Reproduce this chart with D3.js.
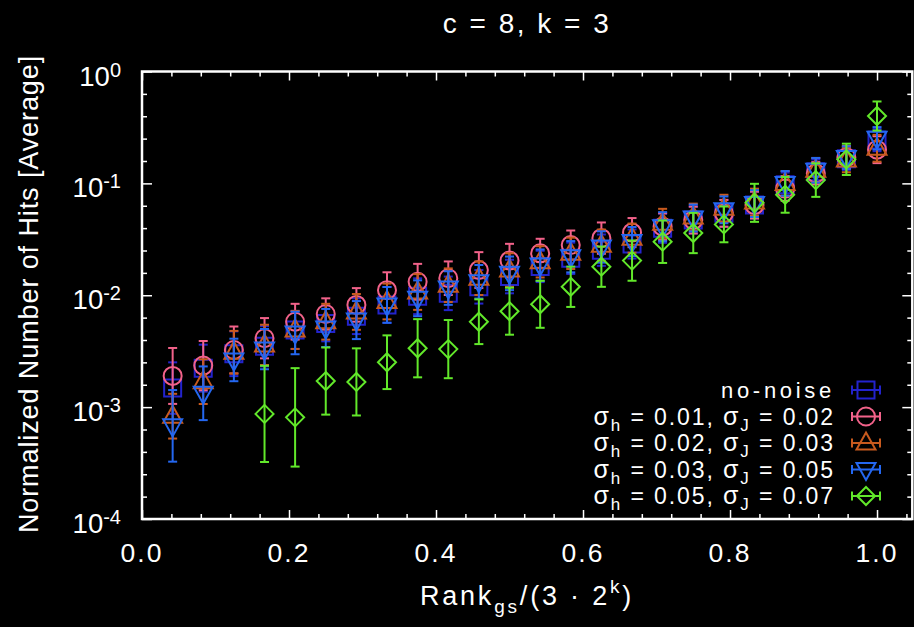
<!DOCTYPE html>
<html><head><meta charset="utf-8">
<script src="https://cdn.jsdelivr.net/npm/d3@7/dist/d3.min.js"></script>
<style>
html,body{margin:0;padding:0;background:#000;}
svg{display:block;}
text{font-family:"Liberation Sans",Arial,Helvetica,sans-serif;fill:#fff;}
</style>
</head><body>
<svg id="chart" width="914" height="627"></svg>
<script>
// ---------- data ----------
const rankValues = [0.0417,0.0833,0.125,0.1667,0.2083,0.25,0.2917,0.3333,0.375,0.4167,0.4583,0.5,
                    0.5417,0.5833,0.625,0.6667,0.7083,0.75,0.7917,0.8333,0.875,0.9167,0.9583,1.0];

const noNoise = [0.00148,0.00223,0.0030,0.0035,0.0049,0.0056,0.0065,0.0082,0.0098,0.0104,0.0119,0.0147,
                 0.0181,0.0214,0.0253,0.0287,0.0397,0.047,0.054,0.064,0.097,0.127,0.166,0.244];
const noNoiseErr = [0.23,0.21,0.20,0.18,0.17,0.16,0.16,0.16,0.16,0.15,0.15,0.15,
                    0.14,0.14,0.14,0.13,0.13,0.12,0.12,0.12,0.11,0.11,0.10,0.10];

const sigma01 = [0.0019,0.00235,0.00324,0.00413,0.0058,0.0068,0.0082,0.0111,0.0132,0.0142,0.0168,0.0204,
                 0.0237,0.0281,0.0324,0.0363,0.041,0.047,0.054,0.064,0.090,0.123,0.171,0.20];
const sigma01Err = [0.25,0.22,0.21,0.18,0.16,0.14,0.15,0.16,0.16,0.15,0.16,0.15,
                    0.13,0.13,0.14,0.13,0.12,0.12,0.12,0.12,0.11,0.10,0.10,0.12];

const sigma02 = [0.00083,0.00169,0.0031,0.0036,0.0049,0.0058,0.0071,0.0088,0.0107,0.0123,0.0142,0.0168,
                 0.0199,0.0237,0.028,0.0324,0.0439,0.050,0.060,0.068,0.100,0.131,0.162,0.206];
const sigma02Err = [0.20,0.20,0.19,0.18,0.17,0.16,0.16,0.16,0.16,0.15,0.15,0.15,
                    0.14,0.14,0.14,0.13,0.13,0.12,0.12,0.12,0.11,0.11,0.11,0.12];

const sigma03 = [0.00068,0.00133,0.00264,0.0033,0.0046,0.0051,0.0060,0.0082,0.0094,0.0116,0.0132,0.0157,
                 0.0186,0.0221,0.027,0.0302,0.041,0.049,0.058,0.066,0.100,0.131,0.170,0.253];
const sigma03Err = [0.32,0.24,0.19,0.18,0.19,0.17,0.17,0.16,0.16,0.15,0.15,0.15,
                    0.14,0.14,0.14,0.13,0.13,0.12,0.12,0.12,0.11,0.11,0.10,0.10];

const sigma05 = [null,null,null,0.00087,0.00081,0.00171,0.00168,0.00252,0.00336,0.0033,0.0058,0.0072,
                 0.0083,0.0119,0.018,0.0204,0.0301,0.036,0.043,0.067,0.079,0.107,0.164,0.40];
const sigma05Err = [null,null,null,0.43,0.44,0.30,0.30,0.24,0.26,0.26,0.20,0.21,
                    0.21,0.18,0.18,0.18,0.19,0.18,0.16,0.17,0.16,0.15,0.14,0.13];

const xTickValues = [0,0.2,0.4,0.6,0.8,1.0];
const xTickLabels = ["0.0","0.2","0.4","0.6","0.8","1.0"];
const yTickValues = [1e-4,1e-3,1e-2,1e-1,1];
const yTickExponents = ["-4","-3","-2","-1","0"];

const seriesNames = ["no-noise","0.01|0.02","0.02|0.03","0.03|0.05","0.05|0.07"];
const seriesColors = ["#2323cc","#f2628a","#c85a1e","#2467f0","#62e82a"];
const seriesShapes = ["square","circle","triangle","triangleDown","diamond"];

// ---------- layout ----------
const svg = d3.select("#chart");
svg.append("rect").attr("width",914).attr("height",627).attr("fill","#000");

const x = d3.scaleLinear().domain([0,1.048]).range([142,912.3]);
const y = d3.scaleLog().domain([1e-4,1]).range([519,71.5]);
const [x0,x1] = x.range(), [yB,yT] = y.range();

// minor tick positions
const xMinor = d3.range(0,1.041,0.04).filter(v=>Math.abs(v*5-Math.round(v*5))>1e-6);
const yMinor = [];
for (let e=-4;e<0;e++) for (let k=1;k<5;k++) yMinor.push(Math.pow(10,e+0.2*k));

function axisTicks(axisGen, transform) {
  const g = svg.append("g").attr("transform",transform).call(axisGen);
  g.select(".domain").remove();
  g.selectAll("text").remove();
  g.selectAll("line").attr("stroke","#fff").attr("stroke-width",1.5);
}
// bottom & top
axisTicks(d3.axisBottom(x).tickValues(xTickValues).tickSize(-9).tickFormat(""), `translate(0,${yB})`);
axisTicks(d3.axisBottom(x).tickValues(xMinor).tickSize(-5).tickFormat(""), `translate(0,${yB})`);
axisTicks(d3.axisTop(x).tickValues(xTickValues).tickSize(-9).tickFormat(""), `translate(0,${yT})`);
axisTicks(d3.axisTop(x).tickValues(xMinor).tickSize(-5).tickFormat(""), `translate(0,${yT})`);
// left & right
axisTicks(d3.axisLeft(y).tickValues(yTickValues).tickSize(-10).tickFormat(""), `translate(${x0},0)`);
axisTicks(d3.axisLeft(y).tickValues(yMinor).tickSize(-5).tickFormat(""), `translate(${x0},0)`);
axisTicks(d3.axisRight(y).tickValues(yTickValues).tickSize(-10).tickFormat(""), `translate(${x1},0)`);
axisTicks(d3.axisRight(y).tickValues(yMinor).tickSize(-5).tickFormat(""), `translate(${x1},0)`);

// frame
svg.append("rect").attr("x",x0).attr("y",yT).attr("width",x1-x0).attr("height",yB-yT)
  .attr("fill","none").attr("stroke","#fff").attr("stroke-width",2.5);

// x tick labels
svg.append("g").selectAll("text").data(xTickValues).join("text")
  .attr("x",d=>x(d)).attr("y",562).attr("text-anchor","middle")
  .attr("font-size",26.5).attr("letter-spacing",2)
  .text((d,i)=>xTickLabels[i]);

// y tick labels
const yl = svg.append("g").selectAll("text").data(yTickValues).join("text")
  .attr("x",121).attr("y",d=>y(d)+14).attr("text-anchor","end").attr("font-size",27.5);
yl.append("tspan").text("10");
yl.append("tspan").attr("font-size",20).attr("dy",-9).text((d,i)=>yTickExponents[i]);

// title
svg.append("text").attr("x",527).attr("y",33).attr("text-anchor","middle")
  .attr("font-size",28).attr("letter-spacing",2.5).text("c = 8, k = 3");

// x axis title
const xt = svg.append("text").attr("x",527).attr("y",605).attr("text-anchor","middle")
  .attr("font-size",27).attr("letter-spacing",2.8);
xt.append("tspan").text("Rank");
xt.append("tspan").attr("font-size",19).attr("dy",8).text("gs");
xt.append("tspan").attr("dy",-8).text("/(3 · 2");
xt.append("tspan").attr("font-size",19).attr("dy",-12).text("k");
xt.append("tspan").attr("dy",12).text(")");

// y axis title
svg.append("text").attr("transform","translate(38,294) rotate(-90)")
  .attr("text-anchor","middle").attr("font-size",27).attr("letter-spacing",0.9)
  .text("Normalized Number of Hits [Average]");

// ---------- marks ----------
function shapePath(shape) {
  switch (shape) {
    case "square": return "M-8.5,-8.5H8.5V8.5H-8.5Z";
    case "circle": return "M-9,0A9,9 0 1,0 9,0A9,9 0 1,0 -9,0Z";
    case "triangle": return "M0,-10.5L9.5,6.5L-9.5,6.5Z";
    case "triangleDown": return "M0,10.5L9.5,-6.5L-9.5,-6.5Z";
    case "diamond": return "M0,-9L9,0L0,9L-9,0Z";
  }
}

const allValues = [noNoise,sigma01,sigma02,sigma03,sigma05];
const allErrors = [noNoiseErr,sigma01Err,sigma02Err,sigma03Err,sigma05Err];
const plotG = svg.append("g");
allValues.forEach((vals,si)=>{
  const color = seriesColors[si];
  const pts = rankValues.map((r,i)=>({r, v:vals[i], e:allErrors[si][i]})).filter(d=>d.v!=null);
  const g = plotG.append("g").attr("stroke",color).attr("stroke-width",2).attr("fill","none");
  pts.forEach(d=>{
    const cx = x(d.r), lo = y(d.v/Math.pow(10,d.e)), hi = y(d.v*Math.pow(10,d.e));
    g.append("line").attr("x1",cx).attr("x2",cx).attr("y1",lo).attr("y2",hi);
    g.append("line").attr("x1",cx-4.5).attr("x2",cx+4.5).attr("y1",lo).attr("y2",lo);
    g.append("line").attr("x1",cx-4.5).attr("x2",cx+4.5).attr("y1",hi).attr("y2",hi);
    g.append("path").attr("d",shapePath(seriesShapes[si]))
      .attr("transform",`translate(${cx},${y(d.v)})`);
  });
});

// ---------- legend ----------
const legendRowY = [390,416.5,443,469.5,496];
seriesNames.forEach((name,i)=>{
  const ry = legendRowY[i];
  const t = svg.append("text").attr("x",835).attr("y",ry+8).attr("text-anchor","end")
    .attr("font-size",23).attr("letter-spacing",1.9);
  if (name==="no-noise") {
    t.attr("font-size",22).attr("letter-spacing",3.7).text(name);
  } else {
    const [h,j] = name.split("|");
    t.append("tspan").attr("font-size",25).text("σ");
    t.append("tspan").attr("font-size",17).attr("dy",6).text("h");
    t.append("tspan").attr("dy",-6).text(` = ${h}, `);
    t.append("tspan").attr("font-size",25).text("σ");
    t.append("tspan").attr("font-size",17).attr("dy",6).text("J");
    t.append("tspan").attr("dy",-6).text(` = ${j}`);
  }
  const g = svg.append("g").attr("stroke",seriesColors[i]).attr("stroke-width",2).attr("fill","none");
  const cx = 866;
  g.append("line").attr("x1",cx-14).attr("x2",cx+14).attr("y1",ry).attr("y2",ry);
  g.append("line").attr("x1",cx-14).attr("x2",cx-14).attr("y1",ry-4.5).attr("y2",ry+4.5);
  g.append("line").attr("x1",cx+14).attr("x2",cx+14).attr("y1",ry-4.5).attr("y2",ry+4.5);
  g.append("path").attr("d",shapePath(seriesShapes[i])).attr("transform",`translate(${cx},${ry})`);
});
</script>
</body></html>
